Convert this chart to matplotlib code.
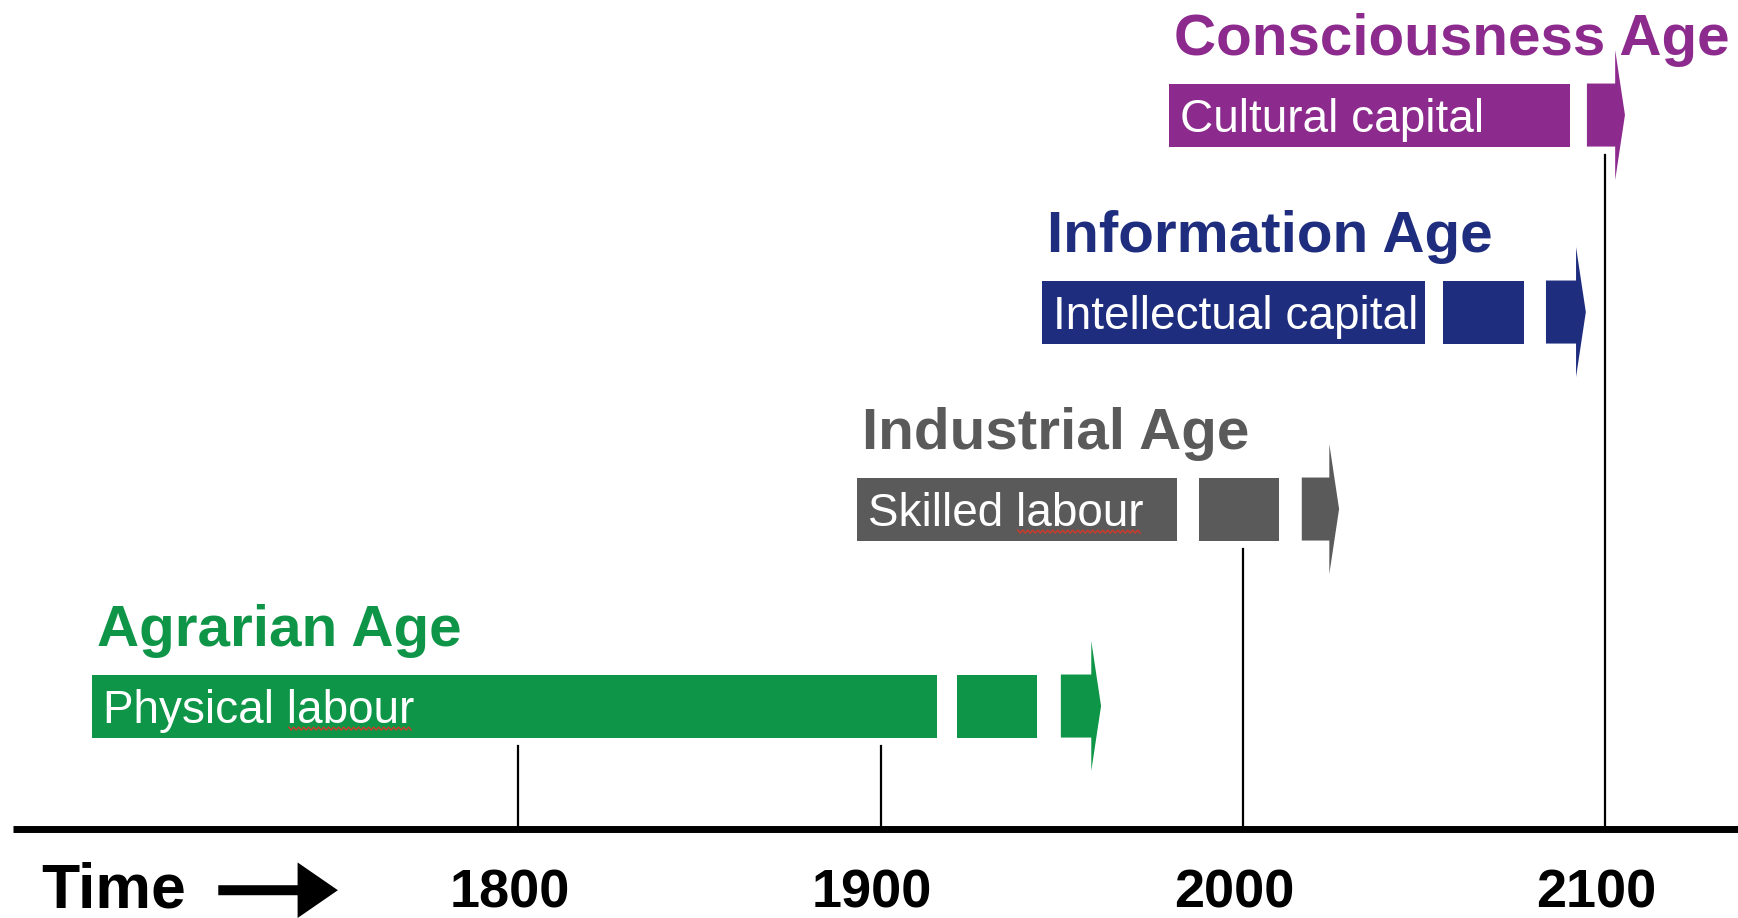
import matplotlib
matplotlib.use('Agg')
import matplotlib.pyplot as plt
import numpy as np

plt.rcParams['font.family'] = ['Liberation Sans', 'DejaVu Sans']

# data: one row per age, positions along the time axis in years
ages = ['Agrarian Age', 'Industrial Age', 'Information Age', 'Consciousness Age']
resources = ['Physical labour', 'Skilled labour', 'Intellectual capital', 'Cultural capital']
main_start = [1682.3, 1893.4, 1944.5, 1979.5]
main_end = [1915.5, 1981.7, 2050.2, 2090.2]
cont_start = [1921.0, 1987.8, 2055.2, None]
cont_end = [1943.1, 2009.9, 2077.5, None]
arrow_start = [1949.7, 2016.2, 2083.6, 2094.9]
arrow_tip = [1960.8, 2026.5, 2094.6, 2105.4]
tick_years = [1800, 1900, 2000, 2100]

colors = ['#0f9548', '#5a5a5a', '#1f2d7f', '#8c2a8d']

bar_h = 0.32
head_h = 0.66
head_len = 2.7
base_y = -0.624

fig = plt.figure(figsize=(17.38, 9.18), dpi=100)
ax = fig.add_axes([0, 0, 1, 1])
ax.set_xlim(1656.9, 2136.6)
ax.set_ylim(-1.076, 3.584)
ax.axis('off')

inner = []
for i in range(len(ages)):
    y = i
    c = colors[i]
    ax.barh(y, main_end[i] - main_start[i], left=main_start[i], height=bar_h,
            color=c, edgecolor='none')
    if cont_start[i] is not None:
        ax.barh(y, cont_end[i] - cont_start[i], left=cont_start[i], height=bar_h,
                color=c, edgecolor='none')
    xb = arrow_tip[i] - head_len
    xs = [arrow_start[i], xb, xb, arrow_tip[i], xb, xb, arrow_start[i]]
    ys = [y - bar_h / 2, y - bar_h / 2, y - head_h / 2, y, y + head_h / 2,
          y + bar_h / 2, y + bar_h / 2]
    ax.fill(xs, ys, color=c, lw=0)
    t = ax.text(main_start[i] + 3.0, y - 0.084, resources[i], color='white',
                fontsize=33, va='baseline', ha='left')
    inner.append(t)
    ax.text(main_start[i] + 1.4, y + 0.305, ages[i], color=c, fontsize=42,
            fontweight='bold', va='baseline', ha='left')

# red spell-check squiggle under "labour"
fig.canvas.draw()
r = fig.canvas.get_renderer()
for t in inner:
    s = t.get_text()
    if 'labour' not in s:
        continue
    full = t.get_window_extent(r)
    pre = s[:s.index('labour')]
    tmp = ax.text(0, 0, pre, fontsize=33)
    w_pre = tmp.get_window_extent(r).width
    tmp.remove()
    x0 = full.x0 + w_pre + 2
    x1 = full.x1 - 2
    _, yb = ax.transData.transform((0, t.get_position()[1]))
    xx = np.arange(x0, x1, 2.5)
    yy = yb - 6 + np.where(np.arange(len(xx)) % 2 == 0, 1.5, -1.5)
    pts = ax.transData.inverted().transform(np.column_stack([xx, yy]))
    ax.plot(pts[:, 0], pts[:, 1], color='#d23a2a', lw=1.0)

# time axis
ax.axhline(base_y, xmin=13 / 1738, xmax=1, color='black', lw=5, solid_capstyle='butt')
for t in tick_years:
    top = None
    for i in range(len(ages)):
        if main_start[i] <= t <= arrow_tip[i]:
            top = i - bar_h / 2 - 0.045
            break
    ax.plot([t, t], [base_y, top], color='black', lw=1.6)
    ax.text(t - 2.5, -1.025, str(t), fontsize=39, fontweight='bold',
            ha='center', va='baseline')

ax.text(0.0236, -1.025, 'Time', transform=ax.get_yaxis_transform(),
        fontsize=45, fontweight='bold', ha='left', va='baseline')
ax.annotate('', xy=(0.196, -0.935), xytext=(0.124, -0.935),
            xycoords=('axes fraction', 'data'), textcoords=('axes fraction', 'data'),
            arrowprops=dict(arrowstyle='simple,head_length=1.45,head_width=2.0,tail_width=0.36',
                            mutation_scale=20, color='black', lw=0))

fig.savefig('out.png', dpi=100)
